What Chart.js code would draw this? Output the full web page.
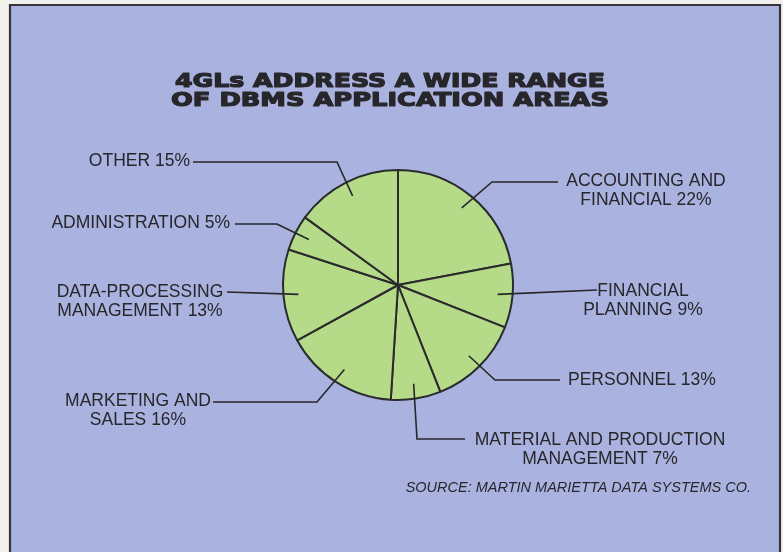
<!DOCTYPE html>
<html>
<head>
<meta charset="utf-8">
<title>4GLs address a wide range of DBMS application areas</title>
<script src="https://cdn.jsdelivr.net/npm/chart.js"></script>
<style>
    html, body { margin: 0; padding: 0; background: #f3f1ec; }
    #wrap { position: relative; width: 783px; height: 552px; }
</style>
</head>
<body>
<div id="wrap"><canvas id="pie"></canvas></div>
<script>
const titleLines = ['4GLs ADDRESS A WIDE RANGE', 'OF DBMS APPLICATION AREAS'];

// slices, clockwise from 12 o'clock
const categories = [
    ['ACCOUNTING AND', 'FINANCIAL'],
    ['FINANCIAL', 'PLANNING'],
    ['PERSONNEL'],
    ['MATERIAL AND PRODUCTION', 'MANAGEMENT'],
    ['MARKETING AND', 'SALES'],
    ['DATA-PROCESSING', 'MANAGEMENT'],
    ['ADMINISTRATION'],
    ['OTHER']
];
const shares = [22, 9, 13, 7, 16, 13, 5, 15];

const sourceNote = 'SOURCE: MARTIN MARIETTA DATA SYSTEMS CO.';

// where each callout goes: leader height, elbow, end of leader, text anchor
const callouts = [
    { lineY: 182, elbowX: 492,  endX: 558, textX: 646, textY: 181, align: 'center' },
    { lineY: 290, elbowX: null, endX: 597, textX: 643, textY: 291, align: 'center' },
    { lineY: 380, elbowX: 495,  endX: 560, textX: 568, textY: 380, align: 'left' },
    { lineY: 439, elbowX: 417,  endX: 465, textX: 600, textY: 440, align: 'center' },
    { lineY: 402, elbowX: 317,  endX: 213, textX: 138, textY: 401, align: 'center' },
    { lineY: 292, elbowX: null, endX: 227, textX: 140, textY: 292, align: 'center' },
    { lineY: 224, elbowX: 277,  endX: 235, textX: 230, textY: 223, align: 'right' },
    { lineY: 162, elbowX: 337,  endX: 193, textX: 190, textY: 161, align: 'right' }
];

const ink = '#26262b';
const panel = '#aab3df';
const sliceFill = '#b5db88';

const backdrop = {
    id: 'backdrop',
    beforeDraw(chart) {
        const ctx = chart.ctx;
        ctx.save();
        ctx.fillStyle = '#f3f1ec';
        ctx.fillRect(0, 0, chart.width, chart.height);
        ctx.fillStyle = panel;
        ctx.fillRect(10, 5, 770, chart.height);
        ctx.strokeStyle = '#34343a';
        ctx.lineWidth = 2.2;
        ctx.beginPath();
        ctx.moveTo(10, chart.height);
        ctx.lineTo(10, 5);
        ctx.lineTo(780, 5);
        ctx.lineTo(780, chart.height);
        ctx.stroke();

        // heavy title, stretched to the width of the printed one
        ctx.fillStyle = ink;
        ctx.strokeStyle = ink;
        ctx.lineWidth = 1.2;
        ctx.lineJoin = 'round';
        ctx.textAlign = 'center';
        ctx.textBaseline = 'alphabetic';
        ctx.font = 'bold 19px "DejaVu Sans"';
        const widths = [430, 438];
        const baselines = [87, 106];
        titleLines.forEach((t, i) => {
            const w = ctx.measureText(t).width;
            ctx.save();
            ctx.translate(390, baselines[i]);
            ctx.scale(widths[i] / w, 1);
            ctx.strokeText(t, 0, 0);
            ctx.fillText(t, 0, 0);
            ctx.restore();
        });
        ctx.restore();
    }
};

const calloutLabels = {
    id: 'calloutLabels',
    afterDatasetsDraw(chart) {
        const ctx = chart.ctx;
        const arcs = chart.getDatasetMeta(0).data;
        ctx.save();
        ctx.strokeStyle = ink;
        ctx.lineWidth = 1.6;
        ctx.fillStyle = ink;
        ctx.font = '17.5px "Liberation Sans"';
        ctx.textBaseline = 'middle';
        arcs.forEach((arc, i) => {
            const p = arc.getProps(['x', 'y', 'startAngle', 'endAngle', 'outerRadius'], true);
            const mid = (p.startAngle + p.endAngle) / 2;
            const ax = p.x + Math.cos(mid) * p.outerRadius * 0.87;
            const ay = p.y + Math.sin(mid) * p.outerRadius * 0.87;
            const c = callouts[i];
            ctx.beginPath();
            ctx.moveTo(ax, ay);
            if (c.elbowX !== null) ctx.lineTo(c.elbowX, c.lineY);
            ctx.lineTo(c.endX, c.lineY);
            ctx.stroke();

            const lines = categories[i].slice();
            lines[lines.length - 1] += ' ' + shares[i] + '%';
            ctx.textAlign = c.align;
            lines.forEach((t, k) => ctx.fillText(t, c.textX, c.textY + k * 19.5));
        });

        ctx.font = 'italic 14.5px "Liberation Sans"';
        ctx.textAlign = 'right';
        ctx.fillText(sourceNote, 751, 488);
        ctx.restore();
    }
};

new Chart(document.getElementById('pie'), {
    type: 'pie',
    data: {
        labels: categories,
        datasets: [{
            data: shares,
            backgroundColor: sliceFill,
            borderColor: '#2b2b2e',
            borderWidth: 2,
            hoverOffset: 0,
            offset: 0
        }]
    },
    options: {
        responsive: true,
        maintainAspectRatio: false,
        animation: false,
        events: [],
        layout: { padding: { left: 282, top: 169, right: 269, bottom: 151 } },
        plugins: {
            legend: { display: false },
            tooltip: { enabled: false },
            title: { display: false }
        }
    },
    plugins: [backdrop, calloutLabels]
});
</script>
</body>
</html>
